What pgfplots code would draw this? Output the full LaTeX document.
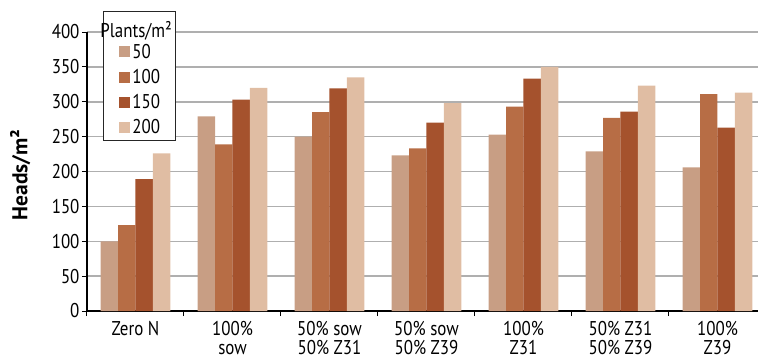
\documentclass[border=0pt]{standalone}
\usepackage{pgfplots}
\usepackage{pgfplotstable}
\pgfplotsset{compat=1.18}
\usepackage{fontspec}
\setmainfont{PT Sans}[FakeStretch=0.85]
\newfontfamily\labfont{PT Sans}[FakeStretch=1.0]
\newcommand{\myfont}{\fontsize{20}{19}\selectfont}
\definecolor{c50}{RGB}{200,158,132}
\definecolor{c100}{RGB}{183,109,69}
\definecolor{c150}{RGB}{165,82,45}
\definecolor{c200}{RGB}{224,189,163}
\definecolor{gridgray}{RGB}{175,175,175}
\pgfplotstableread{
x d50 d100 d150 d200
0 100 123 189 226
1 279 239 303 320
2 250 285 319 335
3 223 233 270 298
4 253 293 333 350
5 229 277 286 323
6 206 311 263 313
}\datatable
\begin{document}
\begin{tikzpicture}[font=\myfont]
\begin{axis}[
  scale only axis, width=671bp, height=279bp,
  xmin=-0.5, xmax=6.418, ymin=0, ymax=400,
  axis lines*=left,
  axis line style={line width=1.2bp, black},
  ybar=0pt, bar width=0.18,
  xtick={0,...,6},
  xticklabels={Zero N, 100\%\\sow, 50\% sow\\50\% Z31, 50\% sow\\50\% Z39, 100\%\\Z31, 50\% Z31\\50\% Z39, 100\%\\Z39},
  ytick={0,50,...,400},
  minor xtick={-0.5,0.5,...,5.5},
  minor ytick={0,50,...,400},
  major tick length=0pt, minor tick length=5bp, tick align=outside,
  tick style={black, line width=1bp},
  ymajorgrids, major grid style={line width=1.5bp, color=gridgray},
  tick label style={font=\myfont},
  xticklabel style={align=center, yshift=-7bp},
  yticklabel style={xshift=-4bp},
  /pgf/number format/assume math mode=true,
  ylabel={\labfont\bfseries\fontsize{21.5}{22}\selectfont Heads/m²},
  ylabel style={at={(axis description cs:-0.0995,0.4875)}, anchor=center},
  legend style={at={(axis description cs:0.0238,1.075)}, anchor=north west, draw=black!85, line width=1bp, fill=white, row sep=5.5bp, inner xsep=2bp, inner ysep=3.5bp, font=\myfont},
  legend cell align=left,
  legend image code/.code={\path (0bp,0bp); \fill[#1] (14bp,-5.5bp) rectangle (25bp,5.5bp);},
]
\addlegendimage{empty legend}
\addlegendentry{\hspace{-32bp}\raisebox{-4bp}[\height][\depth]{Plants/m²}\hspace{9bp}}
\addplot[fill=c50, draw=none] table[x=x, y=d50] {\datatable};
\addlegendentry{50}
\addplot[fill=c100, draw=none] table[x=x, y=d100] {\datatable};
\addlegendentry{100}
\addplot[fill=c150, draw=none] table[x=x, y=d150] {\datatable};
\addlegendentry{150}
\addplot[fill=c200, draw=none] table[x=x, y=d200] {\datatable};
\addlegendentry{200}
\end{axis}
\pgfresetboundingbox
\path[use as bounding box] ([xshift=-87bp,yshift=-52bp]current axis.south west) rectangle ([yshift=32bp]current axis.north east);
\end{tikzpicture}
\end{document}
